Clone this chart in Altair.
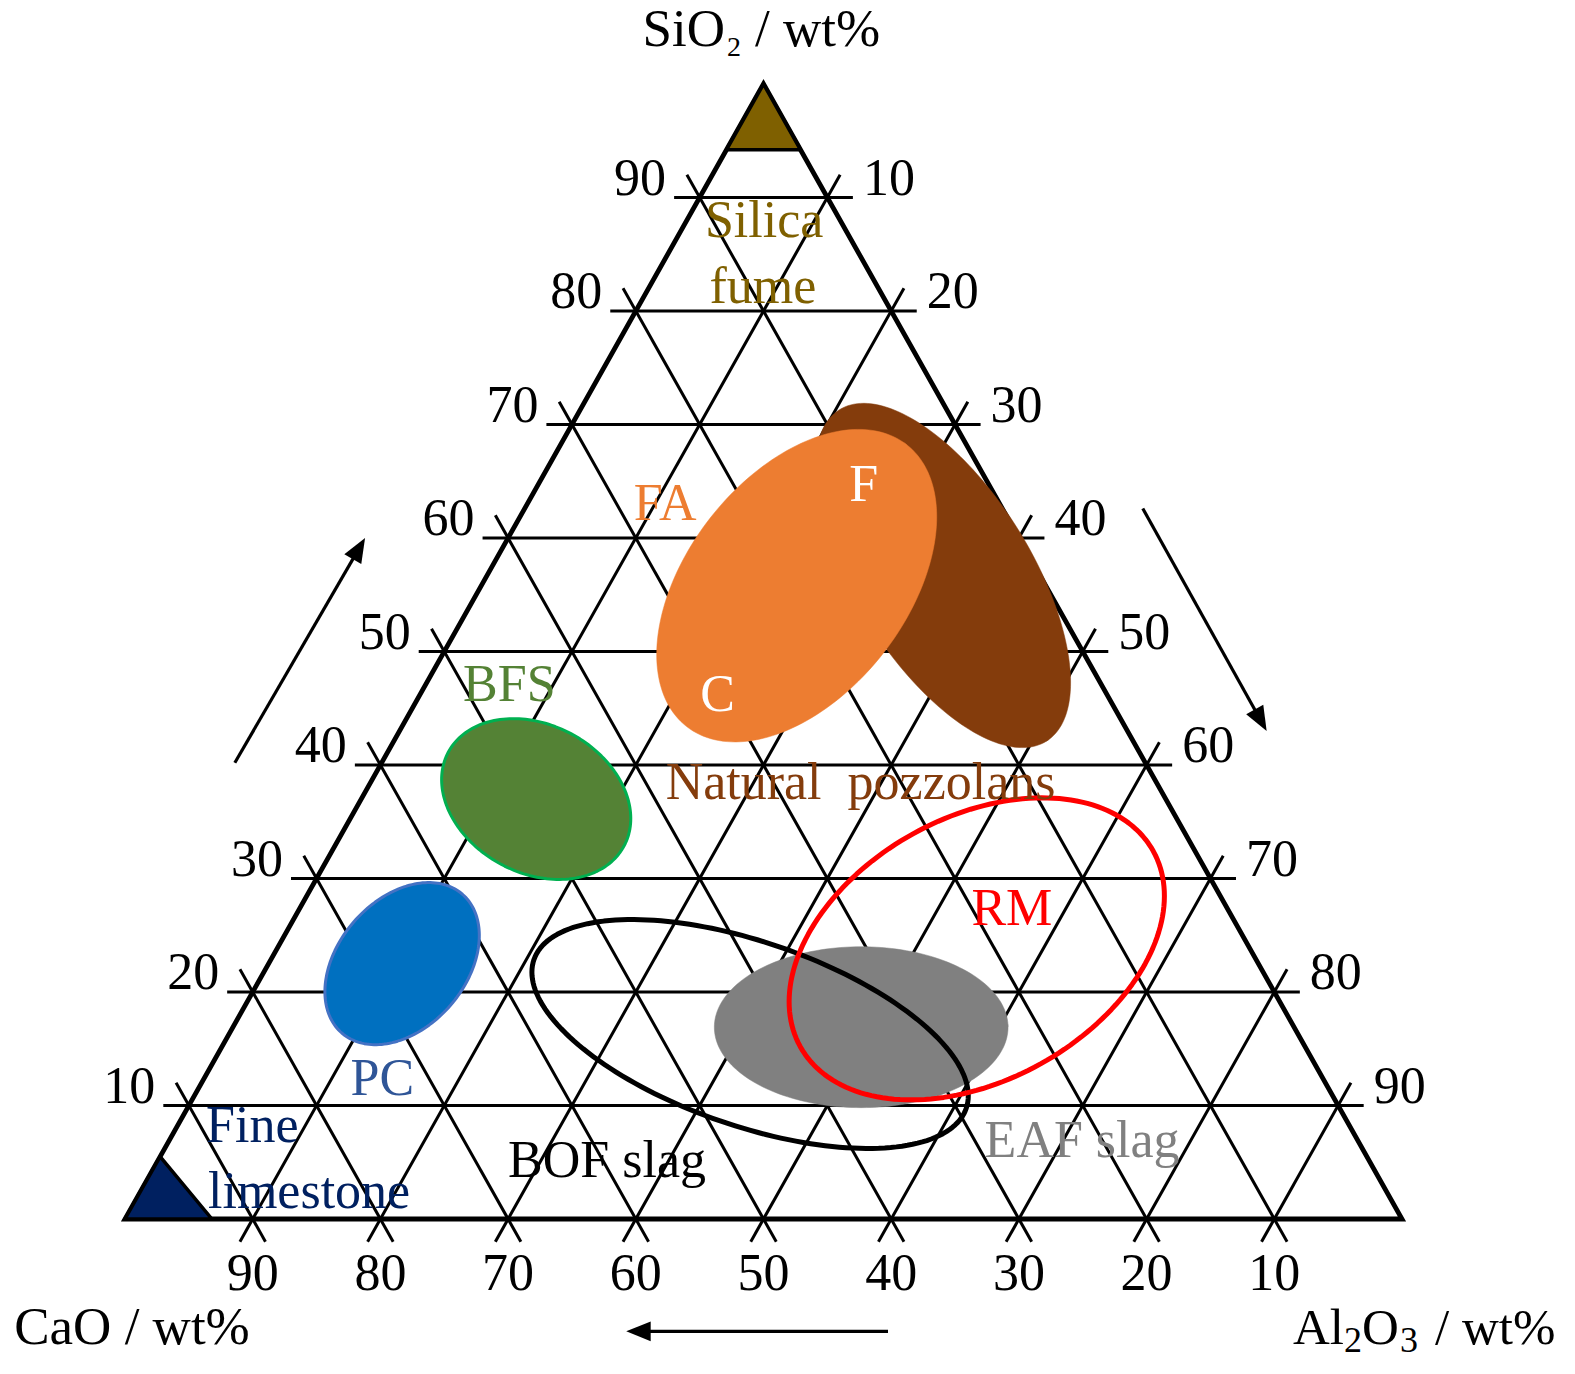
import math
import altair as alt
import pandas as pd

# ---------------------------------------------------------------- data
TICKS = [10, 20, 30, 40, 50, 60, 70, 80, 90]

# material regions: centre in wt% (SiO2, Al2O3; CaO is the rest),
# semi-axes in wt% (along the base), tilt in degrees
REGIONS = ["Natural pozzolans", "FA", "BFS", "PC", "EAF slag", "BOF slag", "RM"]
REGION_SIO2 = [56.7, 55.8, 37.0, 22.5, 16.9, 16.3, 23.8]
REGION_AL2O3 = [35.7, 24.7, 13.7, 10.45, 49.2, 40.8, 54.8]
REGION_SEMI_MAJOR = [15.3, 14.0, 7.8, 7.2, 11.5, 17.9, 15.8]
REGION_SEMI_MINOR = [6.9, 8.6, 5.8, 5.0, 6.3, 7.2, 10.3]
REGION_TILT = [-58, 52, -28, 49, 0, -19, 29]

# corner markers (pure materials)
MARKERS = ["Silica fume", "Fine limestone"]
MARKER_SIO2 = [[100, 94.2, 94.2], [0, 5.5, 0]]
MARKER_AL2O3 = [[0, 0, 5.8], [0, 0, 6.8]]

# text labels inside the diagram (SiO2, Al2O3 of the text anchor)
LABEL_TEXT = ["Silica", "fume", "FA", "F", "C", "BFS", "Natural\u00a0\u00a0pozzolans",
              "RM", "PC", "BOF slag", "EAF slag", "Fine", "limestone"]
LABEL_SIO2 = [86.5, 80.7, 61.6, 63.3, 44.8, 45.6, 37.0, 25.9, 10.9, 3.7, 5.5, 6.8, 1.0]
LABEL_AL2O3 = [6.8, 9.6, 11.5, 26.2, 24.0, 7.3, 39.1, 56.5, 14.7, 35.9, 72.2, 2.95, 6.0]

# direction arrows (from -> to), in (SiO2, Al2O3)
ARROW_FROM_SIO2 = [40.2, 62.6, -9.9]
ARROW_FROM_AL2O3 = [-11.5, 48.4, 64.7]
ARROW_TO_SIO2 = [60.0, 43.0, -9.9]
ARROW_TO_AL2O3 = [-11.2, 67.9, 44.2]

# ---------------------------------------------------------------- styles
REGION_STYLE = {
    "Natural pozzolans": dict(fill="#843C0C", stroke=None, sw=0),
    "FA": dict(fill="#ED7D31", stroke=None, sw=0),
    "BFS": dict(fill="#548235", stroke="#00B050", sw=3),
    "PC": dict(fill="#0070C0", stroke="#4472C4", sw=3),
    "EAF slag": dict(fill="#808080", stroke=None, sw=0),
    "BOF slag": dict(fill=None, stroke="#000000", sw=5),
    "RM": dict(fill=None, stroke="#FF0000", sw=5),
}
MARKER_FILL = {"Silica fume": "#7F6000", "Fine limestone": "#002060"}
LABEL_COLOR = {"Silica": "#7F6000", "fume": "#7F6000", "FA": "#ED7D31", "F": "#FFFFFF",
               "C": "#FFFFFF", "BFS": "#548235", "Natural\u00a0\u00a0pozzolans": "#843C0C",
               "RM": "#FF0000", "PC": "#2F5597", "BOF slag": "#000000",
               "EAF slag": "#808080", "Fine": "#002060", "limestone": "#002060"}
LEFT_ALIGNED = {"Fine", "limestone"}
FONT = "Liberation Serif"
FS = 52

# ---------------------------------------------------------------- layout
PX_X = 12.77   # px per wt% along the base
PX_Y = 11.35   # px per wt% of height
W, H = 1556, 1354
ORIGIN_X, ORIGIN_Y = 117, 1211  # plot-pixel position of the CaO corner
X0 = -ORIGIN_X / PX_X
X1 = X0 + W / PX_X
Y0 = -(H - ORIGIN_Y) / PX_Y
Y1 = Y0 + H / PX_Y
XS = alt.Scale(domain=[X0, X1], nice=False, zero=False)
YS = alt.Scale(domain=[Y0, Y1], nice=False, zero=False)
E = 2.0  # tick extension beyond edges (wt%)


def to_xy(s, a):
    return a + s / 2.0, s


def X(f="x"):
    return alt.X(f + ":Q", scale=XS, axis=None)


def Y(f="y"):
    return alt.Y(f + ":Q", scale=YS, axis=None)


layers = []

# grid lines
seg = []
for v in TICKS:
    for p, q in [((v, -E), (v, 100 - v + E)),
                 ((-E, 100 - v + E), (100 - v + E, -E)),
                 ((-E, v), (100 - v + E, v))]:
        x1, y1 = to_xy(*p)
        x2, y2 = to_xy(*q)
        seg.append(dict(x=x1, y=y1, x2=x2, y2=y2))
layers.append(alt.Chart(pd.DataFrame(seg)).mark_rule(color="black", strokeWidth=3).encode(
    x=X(), y=Y(), x2="x2:Q", y2="y2:Q"))

# outer triangle
edge_pts = [(0, 0), (0, 100), (100, 0), (0, 0), (0, 100)]
edge = pd.DataFrame([dict(i=i, x=to_xy(s, a)[0], y=to_xy(s, a)[1]) for i, (s, a) in enumerate(edge_pts)])
layers.append(alt.Chart(edge).mark_line(color="black", strokeWidth=4.8, strokeJoin="miter").encode(
    x=X(), y=Y(), order="i:Q"))

# regions
for name, s, a, A, B, tilt in zip(REGIONS, REGION_SIO2, REGION_AL2O3, REGION_SEMI_MAJOR,
                                  REGION_SEMI_MINOR, REGION_TILT):
    cx, cy = to_xy(s, a)
    th = math.radians(tilt)
    rows = []
    n = 180
    for i in range(n + 2):
        t = 2 * math.pi * i / n
        ux, uy = A * math.cos(t), B * math.sin(t)
        dx = ux * math.cos(th) - uy * math.sin(th)
        dy = ux * math.sin(th) + uy * math.cos(th)
        rows.append(dict(i=i, x=cx + dx, y=cy + dy * PX_X / PX_Y))
    st = REGION_STYLE[name]
    kw = {}
    if st["fill"]:
        kw["fill"] = st["fill"]
    if st["stroke"]:
        kw["stroke"] = st["stroke"]
        kw["strokeWidth"] = st["sw"]
    else:
        kw["stroke"] = st["fill"]
        kw["strokeWidth"] = 0.5
    layers.append(alt.Chart(pd.DataFrame(rows)).mark_line(strokeJoin="round", **kw).encode(
        x=X(), y=Y(), order="i:Q"))

# corner markers
for name, ss, aa in zip(MARKERS, MARKER_SIO2, MARKER_AL2O3):
    pts = list(zip(ss, aa)) + [(ss[0], aa[0]), (ss[1], aa[1])]
    df = pd.DataFrame([dict(i=i, x=to_xy(s, a)[0], y=to_xy(s, a)[1]) for i, (s, a) in enumerate(pts)])
    layers.append(alt.Chart(df).mark_line(fill=MARKER_FILL[name], stroke="black", strokeWidth=3.5,
                                          strokeJoin="miter").encode(x=X(), y=Y(), order="i:Q"))

# arrows
HEAD = "M0,-1L0.8,1L-0.8,1Z"
HEAD_SIZE = 600
half = math.sqrt(HEAD_SIZE) / 2
shafts, heads = [], []
for fs, fa, ts, ta in zip(ARROW_FROM_SIO2, ARROW_FROM_AL2O3, ARROW_TO_SIO2, ARROW_TO_AL2O3):
    x1, y1 = to_xy(fs, fa)
    x2, y2 = to_xy(ts, ta)
    dxp = (x2 - x1) * PX_X
    dyp = -(y2 - y1) * PX_Y
    L = math.hypot(dxp, dyp)
    ux, uy = dxp / L, dyp / L
    ang = math.degrees(math.atan2(ux, -uy)) % 360
    hx = x2 - ux * half / PX_X
    hy = y2 + uy * half / PX_Y
    shafts.append(dict(x=x1, y=y1, x2=hx, y2=hy))
    heads.append(dict(x=hx, y=hy, ang=ang))
layers.append(alt.Chart(pd.DataFrame(shafts)).mark_rule(color="black", strokeWidth=3.2).encode(
    x=X(), y=Y(), x2="x2:Q", y2="y2:Q"))
layers.append(alt.Chart(pd.DataFrame(heads)).mark_point(
    shape=HEAD, size=HEAD_SIZE, filled=True, color="black", opacity=1).encode(
    x=X(), y=Y(), angle=alt.Angle("ang:Q", scale=None)))

# text
texts = []


def add_text(x, y, text, size, color, align, dx=0.0, dy=0.0):
    texts.append(dict(x=x + dx / PX_X, y=y - dy / PX_Y, text=text, size=size,
                      color=color, align=align))


for v in TICKS:
    x, y = to_xy(v, -E)
    add_text(x, y, str(v), FS, "black", "right", dx=-8, dy=-3)
    x, y = to_xy(v, 100 - v + E)
    add_text(x, y, str(100 - v), FS, "black", "left", dx=10, dy=-3)
    x, y = to_xy(0, 100 - v)
    add_text(x, y, str(v), FS, "black", "center", dy=71)

for t, s, a in zip(LABEL_TEXT, LABEL_SIO2, LABEL_AL2O3):
    x, y = to_xy(s, a)
    add_text(x, y, t, FS, LABEL_COLOR[t], "left" if t in LEFT_ALIGNED else "center")

# axis titles (with subscripts), offsets in px from the corners
apx, apy = to_xy(100, 0)
for t, size, align, dx, dy in [("SiO", 53, "right", -38.5, -38), ("2", 28, "left", -36.5, -28),
                               ("/ wt%", 53, "left", -8.5, -38)]:
    add_text(apx, apy, t, size, "black", align, dx=dx, dy=dy)
cpx, cpy = to_xy(0, 0)
add_text(cpx, cpy, "CaO / wt%", 53, "black", "center", dx=7, dy=125)
bpx, bpy = to_xy(0, 100)
for t, size, dx, dy in [("Al", 51, -109, 125), ("2", 36, -58, 133), ("O", 51, -40, 125),
                        ("3", 36, -2, 133), ("/ wt%", 51, 33, 125)]:
    add_text(bpx, bpy, t, size, "black", "left", dx=dx, dy=dy)

tdf = pd.DataFrame(texts)
for align in ["left", "center", "right"]:
    sub = tdf[tdf["align"] == align]
    layers.append(alt.Chart(sub).mark_text(align=align, baseline="alphabetic", font=FONT).encode(
        x=X(), y=Y(), text="text:N",
        size=alt.Size("size:Q", scale=None),
        color=alt.Color("color:N", scale=None)))

chart = alt.layer(*layers).properties(
    width=W, height=H, padding=0, autosize=alt.AutoSizeParams(type="none")
).configure_view(stroke=None)

chart.save("out.html", embed_options={"renderer": "svg", "actions": False})
